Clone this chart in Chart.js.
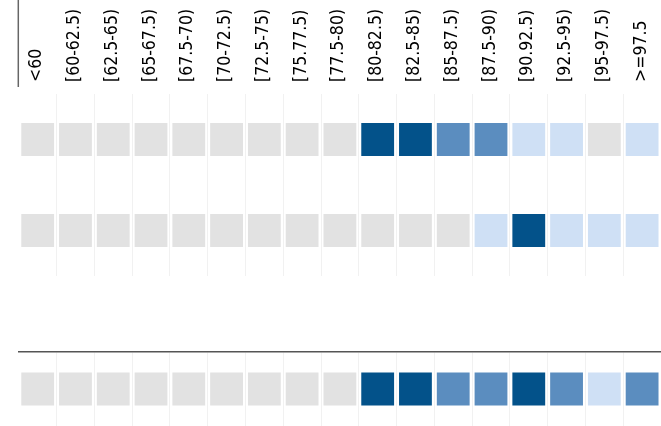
<!DOCTYPE html>
<html>
<head>
<meta charset="utf-8">
<script src="https://cdn.jsdelivr.net/npm/chart.js@4/dist/chart.umd.min.js"></script>
<style>
html, body { margin: 0; padding: 0; background: #fff; }
#wrap { position: relative; width: 661px; height: 426px; overflow: hidden; }
#topChart { position: absolute; left: 0; top: 0; }
#totalChart { position: absolute; left: 0; top: 340px; }
</style>
</head>
<body>
<div id="wrap">
  <canvas id="topChart" width="661" height="276"></canvas>
  <canvas id="totalChart" width="661" height="86"></canvas>
</div>
<script>
// columns (score bins), as printed on the chart
var bins = ['<60', '[60-62.5)', '[62.5-65)', '[65-67.5)', '[67.5-70)', '[70-72.5)', '[72.5-75)',
  '[75.77.5)', '[77.5-80)', '[80-82.5)', '[82.5-85)', '[85-87.5)', '[87.5-90)', '[90.92.5)',
  '[92.5-95)', '[95-97.5)', '>=97.5'];

// rows
var groupRows = ['row1', 'row2'];
var totalRows = ['total'];

// colour level per cell: 0 = none, 1 = low, 2 = mid, 3 = high
var row1Levels = [0, 0, 0, 0, 0, 0, 0, 0, 0, 3, 3, 2, 2, 1, 1, 0, 1];
var row2Levels = [0, 0, 0, 0, 0, 0, 0, 0, 0, 0, 0, 0, 1, 3, 1, 1, 1];
var totalLevels = [0, 0, 0, 0, 0, 0, 0, 0, 0, 3, 3, 2, 2, 3, 2, 1, 2];

var palette = ['#e2e2e2', '#cfe0f5', '#5b8dbf', '#03528a'];

function rowDataset(rowName, levels) {
  return {
    data: bins.map(function (b) { return { x: b, y: rowName }; }),
    backgroundColor: levels.map(function (l) { return palette[l]; }),
    pointStyle: 'rect',
    pointRadius: 23.2,
    pointHoverRadius: 23.2,
    borderWidth: 0,
    showLine: false
  };
}

// rotated column labels + short dark rule on the left of the label band
var binLabels = {
  id: 'binLabels',
  afterDraw: function (chart) {
    var ctx = chart.ctx;
    var xs = chart.scales.x;
    var top = chart.chartArea.top;
    ctx.save();
    ctx.strokeStyle = '#666';
    ctx.lineWidth = 1.5;
    ctx.beginPath();
    ctx.moveTo(chart.chartArea.left - 0.5, 0);
    ctx.lineTo(chart.chartArea.left - 0.5, top - 7);
    ctx.stroke();

    ctx.fillStyle = '#000';
    ctx.font = '17.5px "DejaVu Sans Condensed", "DejaVu Sans"';
    ctx.textAlign = 'left';
    ctx.textBaseline = 'middle';
    bins.forEach(function (b, i) {
      ctx.save();
      ctx.translate(xs.getPixelForTick(i) - 1, top - 12);
      ctx.rotate(-Math.PI / 2);
      ctx.fillText(b, 0, 0);
      ctx.restore();
    });
    ctx.restore();
  }
};

var gridColor = function (c) { return c.index === 0 ? 'rgba(0,0,0,0)' : '#f1f1f1'; };

var topChart = new Chart(document.getElementById('topChart'), {
  type: 'scatter',
  data: {
    datasets: [rowDataset(groupRows[0], row1Levels), rowDataset(groupRows[1], row2Levels)]
  },
  options: {
    responsive: false,
    animation: false,
    events: [],
    layout: { autoPadding: false, padding: { top: 10, left: 18.8, right: 0, bottom: 0 } },
    plugins: { legend: { display: false }, tooltip: { enabled: false } },
    scales: {
      x: {
        type: 'category',
        labels: bins,
        position: 'top',
        offset: true,
        border: { display: false },
        grid: { offset: true, drawTicks: false, color: gridColor },
        ticks: { display: false },
        afterFit: function (scale) { scale.height = 84; }
      },
      y: {
        type: 'category',
        labels: groupRows,
        offset: true,
        display: false
      }
    }
  },
  plugins: [binLabels]
});

var totalChart = new Chart(document.getElementById('totalChart'), {
  type: 'scatter',
  data: {
    datasets: [rowDataset(totalRows[0], totalLevels)]
  },
  options: {
    responsive: false,
    animation: false,
    events: [],
    layout: { autoPadding: false, padding: { top: 12, left: 18.8, right: 0, bottom: 0 } },
    plugins: { legend: { display: false }, tooltip: { enabled: false } },
    scales: {
      x: {
        type: 'category',
        labels: bins,
        position: 'top',
        offset: true,
        border: { display: true, color: '#555', width: 1.5 },
        grid: { offset: true, drawTicks: false, color: gridColor },
        ticks: { display: false },
        afterFit: function (scale) { scale.height = 0; }
      },
      y: {
        type: 'category',
        labels: totalRows,
        offset: true,
        display: false
      }
    }
  }
});
</script>
</body>
</html>
